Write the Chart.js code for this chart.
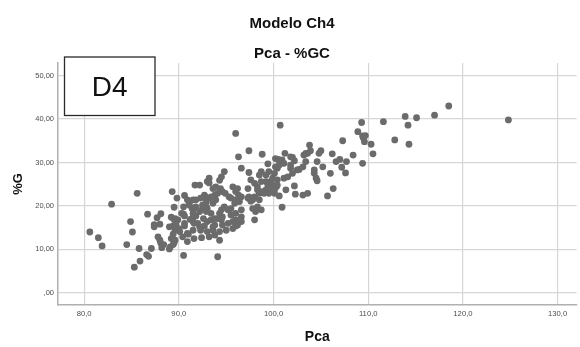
<!DOCTYPE html>
<html>
<head>
<meta charset="utf-8">
<script src="https://cdn.jsdelivr.net/npm/chart.js@4/dist/chart.umd.min.js"></script>
<style>
  html, body { margin: 0; padding: 0; background: #ffffff; }
  #wrap { width: 580px; height: 347px; }
</style>
</head>
<body>
<div id="wrap"><canvas id="c" width="580" height="347"></canvas></div>
<script>
// Pca (x) and %GC (y) for each observation
const pcaValues = [
  80.6, 81.5, 81.9, 82.9, 84.5, 84.9, 85.1, 85.3, 85.9, 85.8,
  85.6, 86.7, 86.6, 86.8, 87.1, 87.7, 88.1, 87.4, 87.4, 88.0,
  87.8, 88.0, 88.1, 88.4, 88.2, 89.0, 89.3, 89.8, 90.6, 89.5,
  90.5, 89.2, 89.5, 89.9, 89.0, 89.4, 89.7, 90.0, 89.6, 89.4,
  89.2, 89.5, 89.1, 90.5, 90.6, 90.6, 90.5, 90.9, 89.6, 89.4,
  89.6, 90.3, 90.6, 91.2, 91.5, 91.8, 91.6, 91.1, 91.0, 91.7,
  93.0, 90.9, 91.8, 92.3, 92.8, 91.4, 92.5, 92.9, 91.5, 92.6,
  93.0, 92.7, 92.2, 92.0, 92.3, 93.0, 92.4, 94.1, 96.6, 97.4,
  99.4, 98.7, 98.5, 94.8, 94.5, 93.2, 93.2, 92.7, 93.9, 94.4,
  94.6, 95.3, 95.7, 96.0, 96.3, 96.4, 95.9, 95.5, 95.2, 94.8,
  94.5, 94.3, 94.6, 95.5, 96.0, 96.6, 96.6, 96.0, 95.7, 95.2,
  94.6, 94.3, 95.0, 95.7, 96.2, 96.6, 98.0, 98.1, 97.8, 97.4,
  97.3, 97.6, 98.0, 98.3, 98.7, 99.2, 99.5, 99.4, 99.7, 99.2,
  99.0, 98.5, 99.5, 100.1, 100.3, 100.4, 99.9, 100.1, 100.4, 93.6,
  93.8, 94.1, 93.9, 93.6, 93.2, 92.9, 93.0, 93.4, 93.8, 93.6,
  93.2, 93.8, 94.3, 96.0, 100.9, 100.6, 102.3, 102.2, 103.6, 103.6,
  103.2, 96.0, 100.7, 96.3, 97.4, 98.8, 100.2, 100.5, 100.7, 101.2,
  102.0, 102.2, 101.8, 102.5, 101.5, 101.1, 102.0, 94.3, 92.2, 99.7,
  99.9, 99.2, 100.1, 100.4, 99.9, 98.3, 98.8, 98.0, 98.5, 97.3,
  97.6, 97.8, 98.3, 98.7, 96.2, 94.9, 95.5, 96.0, 96.6, 103.8,
  103.9, 103.4, 105.0, 104.8, 107.3, 106.2, 106.6, 107.0, 107.7, 107.2,
  107.6, 106.0, 106.3, 105.7, 105.2, 104.3, 104.5, 104.6, 104.3, 104.6,
  103.4, 103.1, 102.7, 103.1, 101.3, 101.8, 100.9, 100.6, 100.2, 101.8,
  101.1, 109.3, 111.6, 113.9, 115.1, 114.2, 108.9, 109.4, 109.7, 109.5,
  109.6, 110.3, 110.5, 112.8, 114.3, 108.4, 109.4, 117.0, 118.5, 124.8,
  91.5, 93.4, 91.1, 91.8, 92.5, 92.2, 92.9, 91.5, 93.4, 94.1,
  91.6, 93.8, 94.5, 91.5, 93.6, 90.1, 90.4, 91.6, 90.9
];
const gcValues = [
  14.0, 12.7, 10.8, 20.4, 11.1, 16.4, 14.0, 5.9, 7.3, 10.2,
  22.9, 18.1, 8.8, 8.4, 10.2, 17.3, 18.2, 15.7, 15.2, 15.8,
  12.9, 12.1, 11.4, 11.1, 10.4, 10.1, 23.3, 21.8, 22.4, 19.7,
  19.8, 17.4, 16.9, 16.8, 15.2, 15.4, 15.8, 14.8, 14.4, 13.5,
  12.5, 11.5, 10.6, 8.6, 15.4, 16.0, 18.1, 13.7, 12.1, 11.1,
  17.1, 18.3, 17.7, 16.9, 17.4, 17.7, 19.4, 20.6, 13.5, 24.8,
  25.6, 21.4, 21.4, 21.8, 22.1, 19.4, 19.4, 19.8, 16.4, 17.1,
  16.4, 15.4, 15.2, 16.0, 14.4, 14.1, 12.7, 8.3, 28.7, 27.7,
  29.7, 27.9, 27.1, 27.9, 26.7, 26.4, 25.3, 22.5, 24.4, 24.0,
  23.3, 22.1, 24.4, 23.3, 22.5, 21.0, 20.6, 19.4, 19.1, 19.8,
  19.1, 18.3, 17.5, 17.9, 18.3, 19.1, 17.5, 16.8, 16.4, 16.0,
  15.6, 14.1, 14.4, 14.8, 15.6, 16.4, 16.8, 18.7, 21.4, 22.1,
  24.0, 26.0, 25.2, 24.4, 25.6, 27.1, 27.9, 24.8, 24.0, 23.7,
  22.9, 22.9, 22.9, 22.9, 24.4, 26.0, 26.4, 27.5, 28.7, 24.0,
  22.5, 22.9, 21.4, 20.6, 21.8, 21.0, 19.4, 18.3, 17.1, 15.2,
  12.9, 13.3, 12.1, 15.4, 19.7, 22.3, 22.7, 24.6, 22.9, 32.1,
  31.7, 36.7, 38.6, 31.3, 32.7, 31.9, 30.9, 30.7, 29.8, 32.1,
  31.2, 30.4, 28.7, 28.3, 26.7, 26.4, 27.5, 25.9, 24.8, 25.6,
  24.8, 25.6, 23.8, 24.8, 23.7, 23.7, 23.3, 22.1, 21.4, 21.8,
  21.1, 19.4, 19.8, 19.1, 24.0, 22.9, 21.8, 21.4, 22.1, 34.0,
  32.7, 32.1, 32.7, 32.1, 35.0, 32.0, 30.2, 30.7, 30.2, 28.9,
  27.6, 27.5, 24.0, 22.3, 29.0, 27.5, 26.4, 25.8, 28.3, 30.2,
  30.2, 29.0, 28.4, 22.5, 23.7, 31.3, 30.6, 29.4, 29.0, 29.4,
  29.8, 39.2, 39.4, 40.6, 40.3, 38.6, 37.1, 36.1, 36.2, 35.6,
  34.8, 34.2, 32.0, 35.2, 34.2, 31.7, 29.8, 40.9, 43.0, 39.8,
  21.4, 22.1, 20.2, 19.8, 20.2, 18.7, 18.7, 18.3, 16.8, 17.1,
  16.0, 15.6, 16.8, 14.4, 14.4, 14.1, 12.9, 12.5, 11.8
];

// Axis ticks and their labels (comma decimal separator)
const xTicks = [80, 90, 100, 110, 120, 130];
const xTickLabels = ['80,0', '90,0', '100,0', '110,0', '120,0', '130,0'];
const yTicks = [0, 10, 20, 30, 40, 50];
const yTickLabels = [',00', '10,00', '20,00', '30,00', '40,00', '50,00'];

const FONT = '"Liberation Sans", Arial, sans-serif';

// Boxed panel tag in the upper-left corner of the plot
const panelTag = {
  id: 'panelTag',
  afterDatasetsDraw(chart) {
    const { ctx, chartArea } = chart;
    const x = chartArea.left + 6.5;
    const y = chartArea.top - 6;
    const w = 90.5;
    const h = 58.5;
    ctx.save();
    ctx.fillStyle = '#ffffff';
    ctx.fillRect(x, y, w, h);
    ctx.strokeStyle = '#2a2a2a';
    ctx.lineWidth = 1.3;
    ctx.strokeRect(x, y, w, h);
    ctx.fillStyle = '#111111';
    ctx.font = '28px ' + FONT;
    ctx.textAlign = 'center';
    ctx.textBaseline = 'middle';
    ctx.fillText('D4', x + w / 2, y + h / 2 + 2);
    ctx.restore();
  }
};

const points = pcaValues.map((x, i) => ({ x: x, y: gcValues[i] }));

new Chart(document.getElementById('c'), {
  type: 'scatter',
  data: {
    datasets: [{
      data: points,
      backgroundColor: '#6b6b6b',
      borderWidth: 0,
      pointRadius: 3.4,
      pointHoverRadius: 3.4
    }]
  },
  options: {
    responsive: false,
    animation: false,
    devicePixelRatio: 1,
    layout: { padding: { left: 6, right: 2, top: 0, bottom: 0 } },
    plugins: {
      legend: { display: false },
      tooltip: { enabled: false },
      title: {
        display: true,
        text: 'Modelo Ch4',
        color: '#111111',
        font: { family: FONT, size: 15, weight: 'bold' },
        padding: { top: 15, bottom: 5 }
      },
      subtitle: {
        display: true,
        text: 'Pca - %GC',
        color: '#111111',
        font: { family: FONT, size: 15, weight: 'bold' },
        padding: { top: 7, bottom: 0 }
      }
    },
    scales: {
      x: {
        type: 'linear',
        min: 77.24,
        max: 132.0,
        afterBuildTicks: (s) => { s.ticks = xTicks.map(v => ({ value: v })); },
        afterFit: (s) => { s.height = 42; },
        ticks: {
          callback: (v) => xTickLabels[xTicks.indexOf(v)],
          color: '#4d4d4d',
          font: { family: FONT, size: 7.7 },
          padding: 4,
          maxRotation: 0,
          autoSkip: false
        },
        grid: { color: '#d6d6d6', lineWidth: 1.2, drawTicks: false },
        border: { color: '#b0b0b0', width: 1.5 },
        title: {
          display: true,
          text: 'Pca',
          color: '#111111',
          font: { family: FONT, size: 14, weight: 'bold' },
          padding: { top: 0, bottom: 1 }
        }
      },
      y: {
        type: 'linear',
        min: -2.8,
        max: 52.9,
        afterBuildTicks: (s) => { s.ticks = yTicks.map(v => ({ value: v })); },
        afterFit: (s) => { s.width = 52; },
        ticks: {
          callback: (v) => yTickLabels[yTicks.indexOf(v)],
          color: '#4d4d4d',
          font: { family: FONT, size: 7.5 },
          padding: 4,
          autoSkip: false
        },
        grid: { color: '#d6d6d6', lineWidth: 1.2, drawTicks: false },
        border: { color: '#b0b0b0', width: 1.5 },
        title: {
          display: true,
          text: '%G',
          color: '#111111',
          font: { family: FONT, size: 13, weight: 'bold' },
          padding: { top: 4.7, bottom: 0 }
        }
      }
    }
  },
  plugins: [panelTag]
});
</script>
</body>
</html>
